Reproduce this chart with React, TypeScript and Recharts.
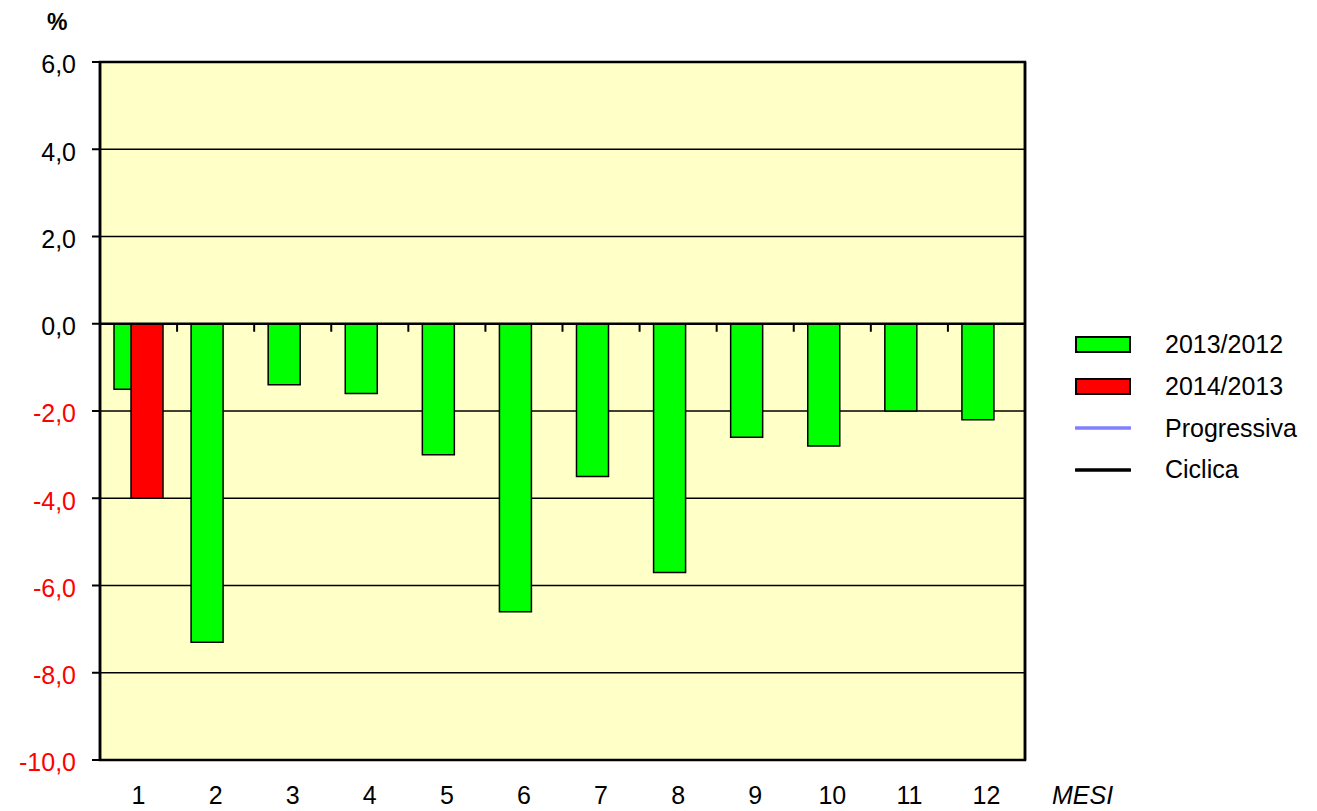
import React from "react";
import {
  ComposedChart,
  Bar,
  Line,
  XAxis,
  YAxis,
  CartesianGrid,
  ReferenceLine,
  ReferenceArea,
  Legend,
} from "recharts";

const months = ["1", "2", "3", "4", "5", "6", "7", "8", "9", "10", "11", "12"];
const var2013 = [-1.5, -7.3, -1.4, -1.6, -3.0, -6.6, -3.5, -5.7, -2.6, -2.8, -2.0, -2.2];
const var2014 = [-4.0, null, null, null, null, null, null, null, null, null, null, null];
const progressiva = [null, null, null, null, null, null, null, null, null, null, null, null];
const ciclica = [null, null, null, null, null, null, null, null, null, null, null, null];
const yTicks = [-10, -8, -6, -4, -2, 0, 2, 4, 6];
const legendOrder = ["2013/2012", "2014/2013", "Progressiva", "Ciclica"];

const data = months.map((m, i) => ({
  mese: m,
  v2013: var2013[i],
  v2014: var2014[i],
  progressiva: progressiva[i],
  ciclica: ciclica[i],
}));

const FONT = "'Liberation Sans', Arial, sans-serif";

const YTick = (props: any) => {
  const { x, y, payload } = props;
  const v = payload.value as number;
  return (
    <text
      x={x}
      y={y}
      dy="0.45em"
      textAnchor="end"
      fill={v < 0 ? "#FF0000" : "#000000"}
      fontSize={25}
      fontFamily={FONT}
    >
      {v.toFixed(1).replace(".", ",")}
    </text>
  );
};

// zero line with small ticks at the category boundaries
const ZeroLine = (props: any) => {
  const { x1, y1, x2 } = props;
  const n = months.length;
  const step = (x2 - x1) / n;
  return (
    <g>
      <line x1={x1} y1={y1} x2={x2} y2={y1} stroke="#000" strokeWidth={2.5} />
      {months.slice(1).map((m, i) => (
        <line
          key={m}
          x1={x1 + step * (i + 1)}
          x2={x1 + step * (i + 1)}
          y1={y1}
          y2={y1 + 8}
          stroke="#000"
          strokeWidth={2}
        />
      ))}
    </g>
  );
};

const LegendBox = (props: any) => {
  const items = [...(props.payload || [])].sort(
    (a: any, b: any) => legendOrder.indexOf(a.value) - legendOrder.indexOf(b.value)
  );
  return (
    <div style={{ fontFamily: FONT, fontSize: 25, color: "#000" }}>
      {items.map((entry: any) => (
        <div
          key={entry.value}
          style={{ display: "flex", alignItems: "center", height: 41.7 }}
        >
          <svg width={56} height={18} style={{ marginRight: 34 }}>
            {entry.type === "line" ? (
              <line x1={1} x2={55} y1={9} y2={9} stroke={entry.color} strokeWidth={3.5} strokeLinecap="round" />
            ) : (
              <rect x={1} y={1} width={54} height={15} fill={entry.color} stroke="#000" strokeWidth={2} />
            )}
          </svg>
          <span>{entry.value}</span>
        </div>
      ))}
    </div>
  );
};

export default function App() {
  return (
    <div style={{ position: "relative", width: 1300, height: 803, fontFamily: FONT }}>
      <div
        style={{
          position: "absolute",
          left: 39,
          top: 3,
          fontSize: 23,
          fontWeight: "bold",
          lineHeight: 1,
        }}
      >
        %
      </div>
      <div
        style={{
          position: "absolute",
          left: 1044,
          top: 775,
          fontSize: 25,
          fontStyle: "italic",
          lineHeight: 1,
        }}
      >
        MESI
      </div>
      <ComposedChart
        width={1300}
        height={803}
        data={data}
        margin={{ top: 54, right: 282, bottom: 3, left: 32 }}
        barSize={32}
        barGap={-15}
      >
        <CartesianGrid vertical={false} stroke="#000" strokeWidth={1.3} fill="#FFFFC8" />
        <XAxis
          dataKey="mese"
          height={48}
          axisLine={false}
          tickLine={false}
          tickMargin={20}
          tick={{ fontSize: 25, fill: "#000", fontFamily: FONT }}
          interval={0}
        />
        <YAxis
          domain={[-10, 6]}
          ticks={yTicks}
          width={60}
          tickSize={8}
          tickMargin={16}
          tick={<YTick />}
          axisLine={{ stroke: "#000", strokeWidth: 2.5 }}
          tickLine={{ stroke: "#000", strokeWidth: 2 }}
          interval={0}
        />
        <YAxis
          yAxisId="right"
          orientation="right"
          domain={[-10, 6]}
          width={1}
          tick={false}
          tickLine={false}
          axisLine={{ stroke: "#000", strokeWidth: 2.5 }}
        />
        <ReferenceArea y1={-10} y2={6} fill="none" stroke="#000" strokeWidth={2.5} />
        <Bar
          dataKey="v2013"
          name="2013/2012"
          fill="#00FF00"
          stroke="#000"
          strokeWidth={1.5}
          isAnimationActive={false}
        />
        <Bar
          dataKey="v2014"
          name="2014/2013"
          fill="#FF0000"
          stroke="#000"
          strokeWidth={1.5}
          isAnimationActive={false}
        />
        <Line
          dataKey="progressiva"
          name="Progressiva"
          stroke="#8080FF"
          dot={false}
          isAnimationActive={false}
        />
        <Line
          dataKey="ciclica"
          name="Ciclica"
          stroke="#000000"
          dot={false}
          isAnimationActive={false}
        />
        <ReferenceLine y={0} shape={<ZeroLine />} />
        <Legend
          layout="vertical"
          align="center"
          verticalAlign="middle"
          content={<LegendBox />}
          wrapperStyle={{ position: "absolute", left: 1067, top: 316, width: 240 }}
        />
      </ComposedChart>
    </div>
  );
}
